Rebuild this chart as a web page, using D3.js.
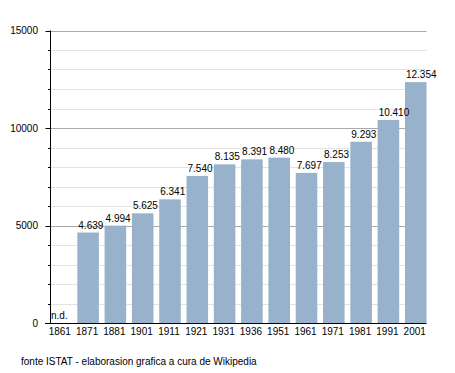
<!DOCTYPE html>
<html><head><meta charset="utf-8">
<script src="https://cdn.jsdelivr.net/npm/d3@7"></script>
<style>
body{margin:0;background:#fff;}
text{font-family:"Liberation Sans",Arial,sans-serif;font-size:10px;fill:#000;}
</style></head>
<body><svg id="c" width="455" height="373"></svg>
<script>
const years = ["1861","1871","1881","1901","1911","1921","1931","1936","1951","1961","1971","1981","1991","2001"];
const population = [null,4639,4994,5625,6341,7540,8135,8391,8480,7697,8253,9293,10410,12354];
const valueLabels = ["n.d.","4.639","4.994","5.625","6.341","7.540","8.135","8.391","8.480","7.697","8.253","9.293","10.410","12.354"];
const majorTicks = [0,5000,10000,15000];
const minorTicks = d3.range(0,15001,1000).filter(v=>v%5000!==0);
const source = "fonte ISTAT - elaborasion grafica a cura de Wikipedia";

(function(){
const svg = d3.select("#c");
const mLeft=50, mRight=426.5, mTop=30.5, mBottom=323;
const x = d3.scaleBand().domain(years).range([mLeft,mRight]).paddingInner(0.21).paddingOuter(0);
const y = d3.scaleLinear().domain([0,15000]).range([mBottom,mTop]);

// gridlines
svg.append("g").selectAll("line").data(minorTicks).join("line")
  .attr("x1",mLeft).attr("x2",mRight).attr("y1",d=>Math.round(y(d))+0.5).attr("y2",d=>Math.round(y(d))+0.5)
  .attr("stroke","#e3e3e3").attr("stroke-width",1);
svg.append("g").selectAll("line").data(majorTicks.filter(d=>d>0)).join("line")
  .attr("x1",mLeft).attr("x2",mRight).attr("y1",d=>Math.round(y(d))+0.5).attr("y2",d=>Math.round(y(d))+0.5)
  .attr("stroke","#aaaaaa").attr("stroke-width",1);

// bars
const data = years.map((yr,i)=>({yr,v:population[i],lab:valueLabels[i]}));
svg.append("g").selectAll("rect").data(data.filter(d=>d.v!=null)).join("rect")
  .attr("x",d=>x(d.yr)).attr("width",x.bandwidth())
  .attr("y",d=>y(d.v)).attr("height",d=>y(0)-y(d.v))
  .attr("fill","#99b2cc");

// value labels
svg.append("g").selectAll("text").data(data).join("text")
  .attr("x",d=>x(d.yr)+1).attr("y",d=>(d.v==null?y(0):y(d.v))-4)
  .text(d=>d.lab);

// y axis
const yAxis = svg.append("g").attr("transform",`translate(${mLeft+0.5},0)`);
yAxis.append("line").attr("x1",0).attr("x2",0).attr("y1",mTop).attr("y2",mBottom).attr("stroke","#000");
yAxis.selectAll(".mj").data(majorTicks).join("line").attr("class","mj")
  .attr("x1",-5).attr("x2",0).attr("y1",d=>Math.round(y(d))+0.5).attr("y2",d=>Math.round(y(d))+0.5).attr("stroke","#000");
yAxis.selectAll(".mn").data(minorTicks).join("line").attr("class","mn")
  .attr("x1",-2.5).attr("x2",0).attr("y1",d=>Math.round(y(d))+0.5).attr("y2",d=>Math.round(y(d))+0.5).attr("stroke","#000");
yAxis.selectAll("text").data(majorTicks).join("text")
  .attr("x",-12.5).attr("y",d=>y(d)).attr("dy","0.35em").attr("text-anchor","end").text(d=>d);

// x axis
svg.append("line").attr("x1",45).attr("x2",mRight).attr("y1",mBottom+0.5).attr("y2",mBottom+0.5).attr("stroke","#000");
svg.append("g").selectAll("text").data(years).join("text")
  .attr("x",d=>x(d)+x.bandwidth()/2-1).attr("y",335).attr("text-anchor","middle").text(d=>d);

svg.append("text").attr("x",21).attr("y",365).text(source);
})();
</script></body></html>
